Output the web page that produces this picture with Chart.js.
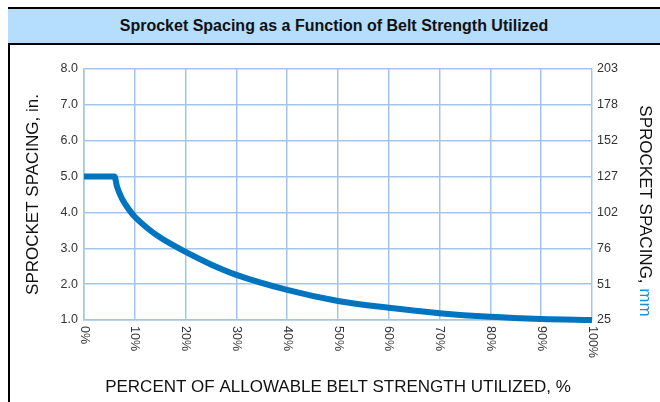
<!DOCTYPE html>
<html>
<head>
<meta charset="utf-8">
<script src="https://cdn.jsdelivr.net/npm/chart.js@4"></script>
<style>
  body { margin: 0; background: #fff; width: 660px; height: 402px; overflow: hidden; position: relative; font-family: "Liberation Sans", Arial, sans-serif; }
  #frame-left { position: absolute; left: 8px; top: 7px; width: 2px; height: 395px; background: #000; }
  #band { position: absolute; left: 8px; top: 7px; width: 652px; height: 34px; background: #b5ddfd;
          border-top: 2px solid #000; border-bottom: 2px solid #000; }
  #band span { position: absolute; left: 0; right: 0; top: 0; line-height: 34px; text-align: center;
               font-weight: bold; font-size: 16px; color: #111; }
  #chart { position: absolute; left: 10px; top: 45px; }
</style>
</head>
<body>
<div id="frame-left"></div>
<div id="band"><span>Sprocket Spacing as a Function of Belt Strength Utilized</span></div>
<canvas id="chart" width="650" height="357"></canvas>
<script>
// belt strength utilized (%) vs sprocket spacing (in.)
const pctUtilized = [0, 6, 6.5, 7.5, 9, 10, 12.5, 15, 20, 25, 30, 40, 50, 60, 70, 80, 90, 100];
const spacingIn = [5.0, 5.0, 4.72, 4.38, 4.05, 3.88, 3.56, 3.3, 2.9, 2.55, 2.26, 1.84, 1.53, 1.34, 1.19, 1.09, 1.03, 1.0];
const mmLabels = ['25', '51', '76', '102', '127', '152', '178', '203'];
const pctLabels = ['0%', '10%', '20%', '30%', '40%', '50%', '60%', '70%', '80%', '90%', '100%'];

const gridColor = '#a3c6e8';
const tickFont = { family: 'Liberation Sans', size: 12.5 };

// x labels read top-to-bottom and the right title has a blue "mm", so draw those by hand
const extraText = {
    id: 'extraText',
    afterDraw(chart) {
        const ctx = chart.ctx;
        const xs = chart.scales.x;
        const area = chart.chartArea;
        ctx.save();
        ctx.font = '12.5px "Liberation Sans"';
        ctx.fillStyle = '#333';
        ctx.textAlign = 'left';
        ctx.textBaseline = 'middle';
        pctLabels.forEach((lbl, i) => {
            ctx.save();
            ctx.translate(xs.getPixelForValue(i * 10), area.bottom + 6);
            ctx.rotate(Math.PI / 2);
            ctx.fillText(lbl, 0, 0);
            ctx.restore();
        });

        ctx.font = '17px "Liberation Sans"';
        const part1 = 'SPROCKET SPACING, ';
        const part2 = 'mm';
        const w1 = ctx.measureText(part1).width;
        const w2 = ctx.measureText(part2).width;
        ctx.translate(635, 166 - (w1 + w2) / 2);
        ctx.rotate(Math.PI / 2);
        ctx.fillStyle = '#111';
        ctx.fillText(part1, 0, 0);
        ctx.fillStyle = '#1a8fe0';
        ctx.fillText(part2, w1, 0);
        ctx.restore();
    }
};

new Chart(document.getElementById('chart'), {
    type: 'line',
    data: {
        datasets: [{
            data: pctUtilized.map((p, i) => ({ x: p, y: spacingIn[i] })),
            borderColor: '#0075bf',
            borderWidth: 6,
            pointRadius: 0,
            cubicInterpolationMode: 'monotone',
            clip: false,
            yAxisID: 'y'
        }]
    },
    options: {
        responsive: false,
        animation: false,
        devicePixelRatio: 1,
        layout: { padding: { top: 24 } },
        plugins: { legend: { display: false }, tooltip: { enabled: false } },
        scales: {
            x: {
                type: 'linear', min: 0, max: 100,
                ticks: { stepSize: 10, display: false },
                grid: { color: gridColor, lineWidth: 1.5, drawTicks: false },
                border: { color: gridColor, width: 1.5 },
                title: {
                    display: true, text: 'PERCENT OF ALLOWABLE BELT STRENGTH UTILIZED, %',
                    color: '#111', font: { family: 'Liberation Sans', size: 17 }, padding: { top: 7 }
                },
                afterFit: s => { s.height = 82; }
            },
            y: {
                position: 'left', min: 1, max: 8,
                ticks: { stepSize: 1, color: '#333', font: tickFont, padding: 6, callback: v => v.toFixed(1) },
                grid: { color: gridColor, lineWidth: 1.5, drawTicks: false },
                border: { color: gridColor, width: 1.5 },
                title: {
                    display: true, text: 'SPROCKET SPACING, in.',
                    color: '#111', font: { family: 'Liberation Sans', size: 17 }, padding: { top: 13 }
                },
                afterFit: s => { s.width = 74; }
            },
            y2: {
                position: 'right', min: 1, max: 8,
                ticks: { stepSize: 1, color: '#333', font: tickFont, padding: 5, callback: (v, i) => mmLabels[i] },
                grid: { display: false, drawTicks: false },
                border: { display: false },
                afterFit: s => { s.width = 68; }
            }
        }
    },
    plugins: [extraText]
});
</script>
</body>
</html>
